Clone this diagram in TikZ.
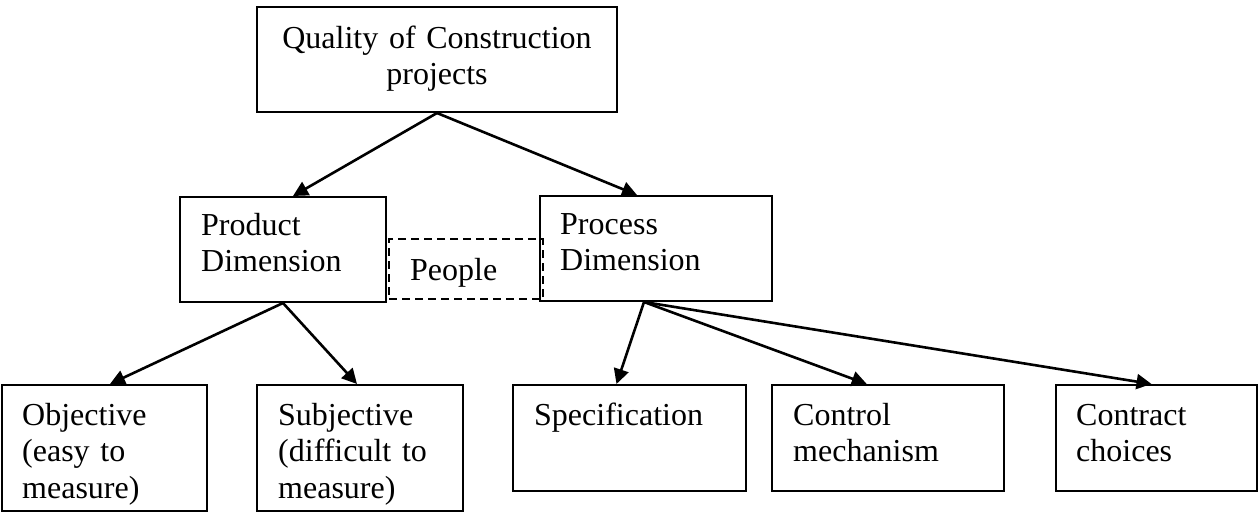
\documentclass[tikz,border=0pt]{standalone}
\usepackage{fontspec}
\setmainfont{Liberation Serif}
\usetikzlibrary{arrows.meta}
\begin{document}
\begin{tikzpicture}[x=1pt,y=-1pt,
  box/.style={draw, line width=2pt, inner sep=0pt},
  peoplebox/.style={draw, line width=2.4pt, dash pattern=on 8pt off 5pt, inner sep=0pt},
  txt/.style={inner sep=0pt, anchor=north west, align=left, text width=220pt,
    font=\fontsize{32}{36.7}\selectfont},
  arr/.style={line width=2.6pt, -{Triangle[length=15pt,width=15pt]}}]
\useasboundingbox (0,0) rectangle (1258,512);

% top level
\node[box, minimum width=360pt, minimum height=105pt] (top) at (437,59.5) {};
\node[txt, anchor=north, align=center, text width=360pt] (top-t) at (437,22.3)
  {\strut Quality of Construction\\projects};

% two dimensions and the people link between them
\node[box, minimum width=206pt, minimum height=105pt] (prod) at (283,249.5) {};
\node[txt] (prod-t) at (201,209.3) {\strut Product\\Dimension};
\node[box, minimum width=232pt, minimum height=105pt] (proc) at (656,248.5) {};
\node[peoplebox, minimum width=154pt, minimum height=60pt] (people) at (466,269) {};
\node[txt] (people-t) at (410,254.3) {\strut People};
\node[txt] (proc-t) at (560,208.3) {\strut Process\\Dimension};

% product children
\node[box, minimum width=205pt, minimum height=126pt] (obj) at (104.5,448) {};
\node[txt] (obj-t) at (22,399.3) {\strut Objective\\(easy to\\measure)};
\node[box, minimum width=206pt, minimum height=126pt] (subj) at (360,448) {};
\node[txt] (subj-t) at (278,399.3) {\strut Subjective\\(difficult to\\measure)};

% process children
\node[box, minimum width=232.5pt, minimum height=106pt] (spec) at (629.25,438) {};
\node[txt] (spec-t) at (534,399.3) {\strut Specification};
\node[box, minimum width=232.5pt, minimum height=106pt] (ctrl) at (887.75,438) {};
\node[txt] (ctrl-t) at (793,399.3) {\strut Control\\mechanism};
\node[box, minimum width=201pt, minimum height=106pt] (contr) at (1156.5,438) {};
\node[txt] (contr-t) at (1076,399.3) {\strut Contract\\choices};

% connectors
\draw[arr] (top.south) -- ([xshift=10pt]prod.north);
\draw[arr] (top.south) -- ([xshift=-19pt]proc.north);
\draw[arr] (prod.south) -- ([xshift=5.5pt]obj.north);
\draw[arr] (prod.south) -- ([xshift=-3pt]subj.north);
\draw[arr] ([xshift=-12pt]proc.south) -- ([xshift=-12.75pt]spec.north);
\draw[arr] ([xshift=-12pt]proc.south) -- ([xshift=-21pt]ctrl.north);
\draw[arr] ([xshift=-12pt]proc.south) -- ([xshift=-5pt]contr.north);
\end{tikzpicture}
\end{document}
